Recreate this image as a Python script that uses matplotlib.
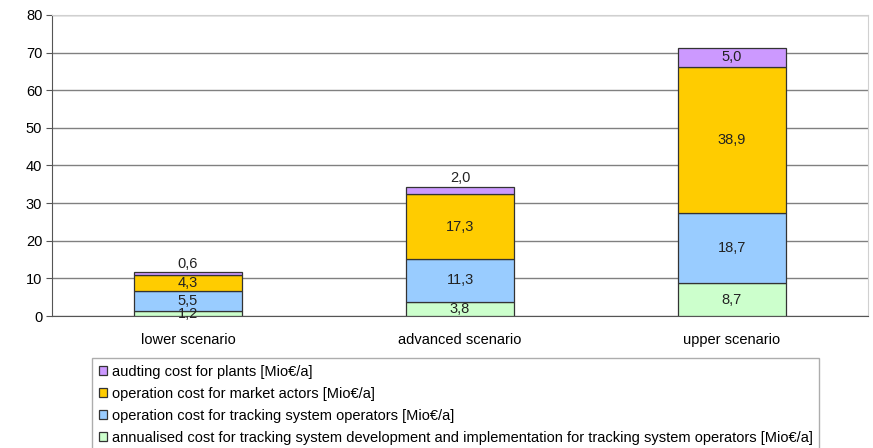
import matplotlib
matplotlib.use("Agg")
import matplotlib.pyplot as plt
import numpy as np

plt.rcParams["font.family"] = ["Liberation Sans", "DejaVu Sans"]

scenarios = ["lower scenario", "advanced scenario", "upper scenario"]

# stacked from the bottom up, Mio EUR per year
annualised_dev = [1.2, 3.8, 8.7]
ops_tracking = [5.5, 11.3, 18.7]
ops_market = [4.3, 17.3, 38.9]
auditing = [0.6, 2.0, 5.0]

series_names = [
    "annualised cost for tracking system development and implementation for tracking system operators [Mio€/a]",
    "operation cost for tracking system operators [Mio€/a]",
    "operation cost for market actors [Mio€/a]",
    "audting cost for plants [Mio€/a]",
]
series_values = [annualised_dev, ops_tracking, ops_market, auditing]
colors = ["#CCFFCC", "#99CCFF", "#FFCC00", "#CC99FF"]

fs = 10.5

fig = plt.figure(figsize=(8.73, 4.48), dpi=100)
ax = fig.add_axes([52 / 873, 1 - 316 / 448, 816 / 873, 301 / 448])

x = np.arange(len(scenarios))
bottom = np.zeros(len(scenarios))
handles = []
for k, (name, vals, col) in enumerate(zip(series_names, series_values, colors)):
    vals = np.array(vals)
    bars = ax.bar(x, vals, width=0.4, bottom=bottom, color=col,
                  edgecolor="#333333", linewidth=0.9, label=name, zorder=3)
    handles.append(bars)
    for xi, b, v in zip(x, bottom, vals):
        label = f"{v:.1f}".replace(".", ",")
        top_series = k == len(series_values) - 1
        if top_series and v < 2.5:
            ax.annotate(label, (xi, b + v), xytext=(0, 1), textcoords="offset points",
                        ha="center", va="bottom", fontsize=fs, color="#222222", zorder=4)
        else:
            ax.text(xi, b + v / 2, label, ha="center", va="center",
                    fontsize=fs, color="#222222", zorder=4)
    bottom += vals

ax.set_xlim(-0.5, 2.5)
ax.set_ylim(0, 80)
ax.set_yticks(range(0, 81, 10))
ax.set_xticks(x)
ax.set_xticklabels(scenarios, fontsize=fs)
ax.tick_params(axis="y", labelsize=fs, length=4, color="#555555", direction="out", pad=3)
ax.tick_params(axis="x", length=0, pad=12)

ax.yaxis.grid(True, color="#808080", linewidth=1.0, zorder=0)
ax.set_axisbelow(True)
for side in ("top", "right"):
    ax.spines[side].set_color("#d0d0d0")
ax.spines["left"].set_color("#555555")
ax.spines["bottom"].set_color("#555555")

leg = fig.legend(handles[::-1], series_names[::-1], loc="upper left",
                 bbox_to_anchor=(92 / 873, 1 - 358 / 448), fontsize=fs,
                 frameon=True, fancybox=False, edgecolor="#999999",
                 handlelength=0.6, handleheight=0.6, handletextpad=0.3,
                 labelspacing=0.55, borderpad=0.45, borderaxespad=0)
leg.get_frame().set_linewidth(1.0)

fig.savefig("out.png", dpi=100)
